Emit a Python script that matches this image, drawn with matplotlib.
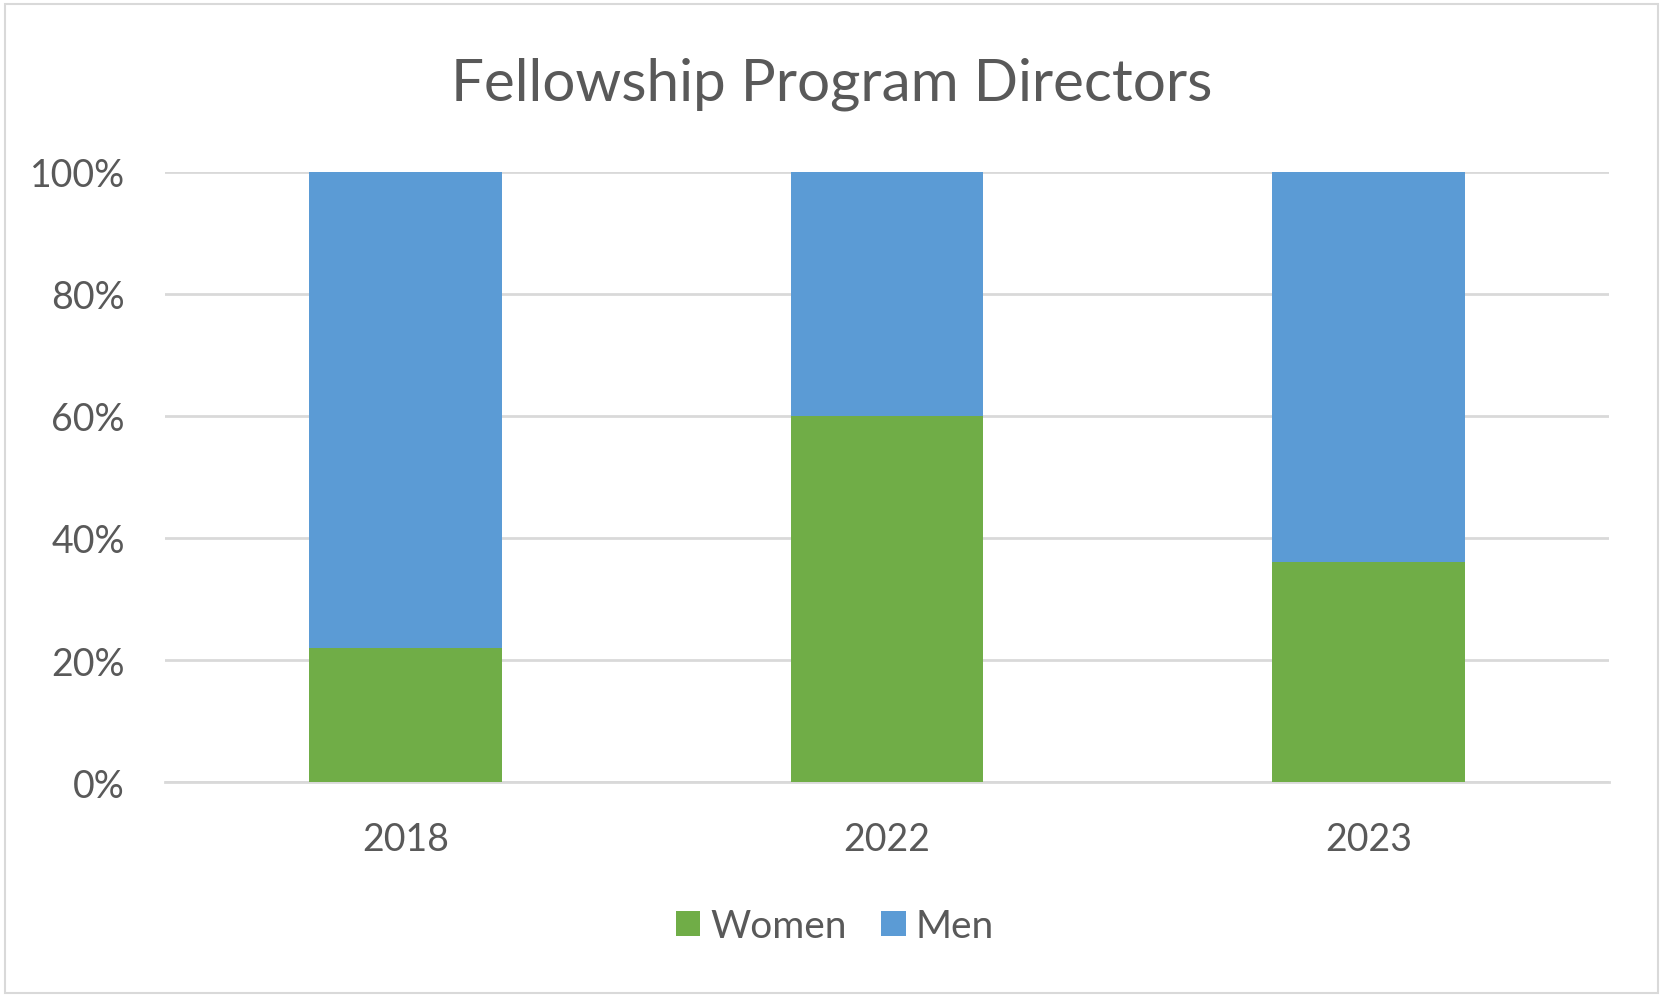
import matplotlib.pyplot as plt
import numpy as np
from matplotlib.patches import Rectangle
from matplotlib.ticker import PercentFormatter

# Share of fellowship program directors by year
years = ["2018", "2022", "2023"]
women = [22, 60, 36]
men = [78, 40, 64]

text_color = "#595959"
grid_color = "#D9D9D9"
green = "#70AD47"
blue = "#5B9BD5"

plt.rcParams["font.family"] = ["Lato", "DejaVu Sans"]

W, H = 1663, 1003
fig = plt.figure(figsize=(W / 100, H / 100), dpi=100)
ax = fig.add_axes([165 / W, 1 - 783 / H, (1609 - 165) / W, (783 - 173) / H])

x = np.arange(len(years))
ax.bar(x, women, width=0.4, color=green, label="Women", zorder=3)
ax.bar(x, men, width=0.4, bottom=women, color=blue, label="Men", zorder=3)

ax.set_xlim(-0.5, len(years) - 0.5)
ax.set_ylim(0, 100)
ax.set_yticks(np.arange(0, 101, 20))
ax.yaxis.set_major_formatter(PercentFormatter(decimals=0))
ax.set_xticks(x, years)
ax.grid(axis="y", color=grid_color, linewidth=2, zorder=0)
ax.tick_params(length=0, labelsize=27, labelcolor=text_color)
ax.tick_params(axis="y", pad=29)
ax.tick_params(axis="x", pad=28)
for side in ["top", "right", "left"]:
    ax.spines[side].set_visible(False)
ax.spines["bottom"].set_color(grid_color)
ax.spines["bottom"].set_linewidth(2)

fig.suptitle("Fellowship Program Directors", y=1 - 84 / H, va="center",
             fontsize=42, color=text_color)

leg = fig.legend(loc="center", bbox_to_anchor=(0.502, 1 - 927 / H), ncol=2, frameon=False,
                 fontsize=28, handlelength=0.62, handleheight=0.62,
                 handletextpad=0.26, columnspacing=0.9, borderaxespad=0)
for t in leg.get_texts():
    t.set_color(text_color)

# light border around the whole chart
fig.patches.append(Rectangle((4.5 / W, 1 - 994 / H), (1658 - 4.5) / W, (994 - 4.5) / H,
                             transform=fig.transFigure, fill=False,
                             edgecolor=grid_color, linewidth=1.5))

fig.savefig("out.png", dpi=100)
